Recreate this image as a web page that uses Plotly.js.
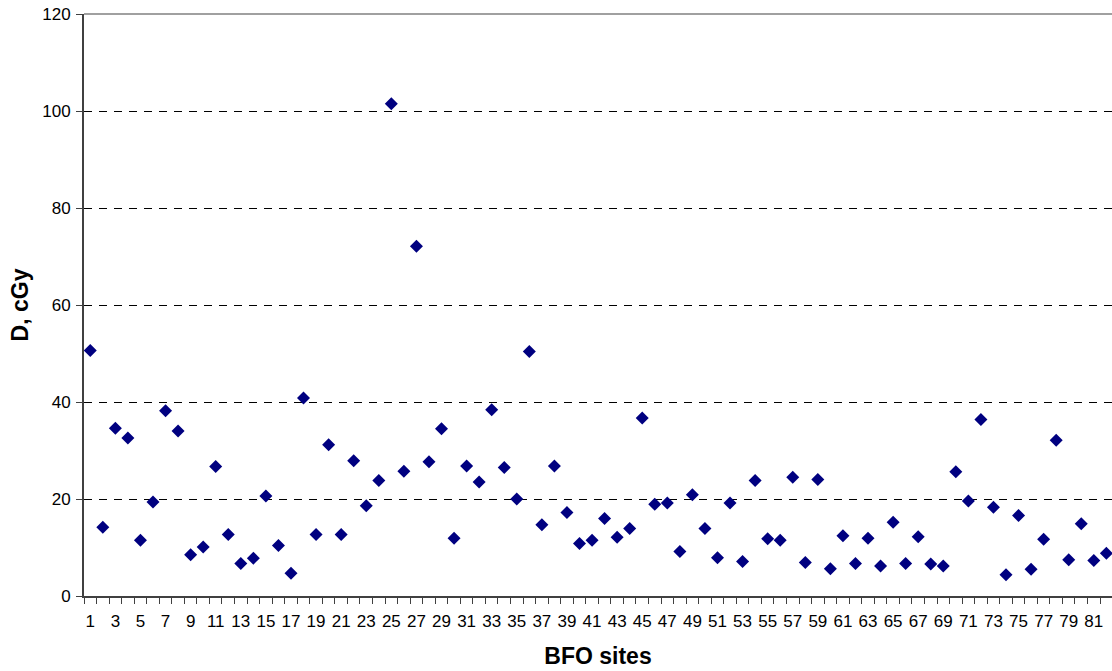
<!DOCTYPE html>
<html>
<head>
<meta charset="utf-8">
<script src="https://cdn.plot.ly/plotly-3.0.1.min.js"></script>
<style>html,body{margin:0;padding:0;background:#fff;}#chart{width:1112px;height:671px;}</style>
</head>
<body>
<div id="chart"></div>
<script>
const sites = [1,2,3,4,5,6,7,8,9,10,11,12,13,14,15,16,17,18,19,20,21,22,23,24,25,26,27,28,29,30,31,32,33,34,35,36,37,38,39,40,41,42,43,44,45,46,47,48,49,50,51,52,53,54,55,56,57,58,59,60,61,62,63,64,65,66,67,68,69,70,71,72,73,74,75,76,77,78,79,80,81,82];
const doseCGy = [50.6,14.2,34.6,32.6,11.5,19.4,38.2,34.0,8.5,10.1,26.7,12.7,6.7,7.8,20.6,10.4,4.7,40.8,12.7,31.2,12.7,27.9,18.6,23.8,101.5,25.7,72.1,27.7,34.5,11.9,26.8,23.5,38.4,26.5,20.0,50.4,14.7,26.8,17.2,10.8,11.5,16.0,12.1,13.9,36.7,18.9,19.2,9.2,20.9,13.9,7.9,19.2,7.1,23.8,11.8,11.5,24.5,6.9,24.0,5.6,12.4,6.7,11.9,6.2,15.2,6.7,12.2,6.6,6.2,25.6,19.6,36.4,18.3,4.4,16.6,5.5,11.7,32.1,7.5,14.9,7.3,8.8];
const xTickVals = [1,3,5,7,9,11,13,15,17,19,21,23,25,27,29,31,33,35,37,39,41,43,45,47,49,51,53,55,57,59,61,63,65,67,69,71,73,75,77,79,81];
const yTickVals = [0,20,40,60,80,100,120];

const ff = 'Liberation Sans, Arial, sans-serif';
const tickFont = {family: ff, size: 17, color: '#000'};
const titleFont = {family: ff, size: 23, color: '#000', weight: 'bold'};

Plotly.newPlot('chart', [{
  x: sites,
  y: doseCGy,
  type: 'scatter',
  mode: 'markers',
  marker: {symbol: 'diamond', size: 10, color: '#000080'},
  hoverinfo: 'x+y'
}], {
  width: 1112, height: 671,
  margin: {l: 84, r: 0, t: 14, b: 75},
  paper_bgcolor: '#fff', plot_bgcolor: '#fff',
  font: tickFont,
  showlegend: false,
  xaxis: {
    range: [0.5, 82.45],
    tickmode: 'array', tickvals: xTickVals, ticktext: xTickVals.map(String),
    ticks: '', showgrid: false, zeroline: false,
    showline: true, linecolor: '#404040', linewidth: 2,
    minor: {tickmode: 'linear', tick0: 0.5, dtick: 1, ticks: 'outside', ticklen: 6, tickcolor: '#404040', tickwidth: 1, showgrid: false},
    ticklabelstandoff: 9,
    tickfont: tickFont,
    automargin: false,
    title: {text: 'BFO sites', font: titleFont, standoff: 17}
  },
  yaxis: {
    range: [0, 120],
    tickmode: 'array', tickvals: yTickVals,
    ticks: 'outside', ticklen: 6, tickcolor: '#404040', tickwidth: 1,
    showgrid: true, gridcolor: '#000', gridwidth: 1, griddash: '8px,7px',
    zeroline: false,
    showline: true, linecolor: '#404040', linewidth: 2,
    ticklabelstandoff: 2,
    tickfont: tickFont,
    automargin: false,
    title: {text: 'D, cGy', font: titleFont, standoff: 7}
  },
  shapes: [{type: 'line', xref: 'paper', yref: 'paper', x0: 0, x1: 1, y0: 1, y1: 1, line: {color: '#a0a0a0', width: 2}}]
}, {displayModeBar: false, staticPlot: true});
</script>
</body>
</html>
